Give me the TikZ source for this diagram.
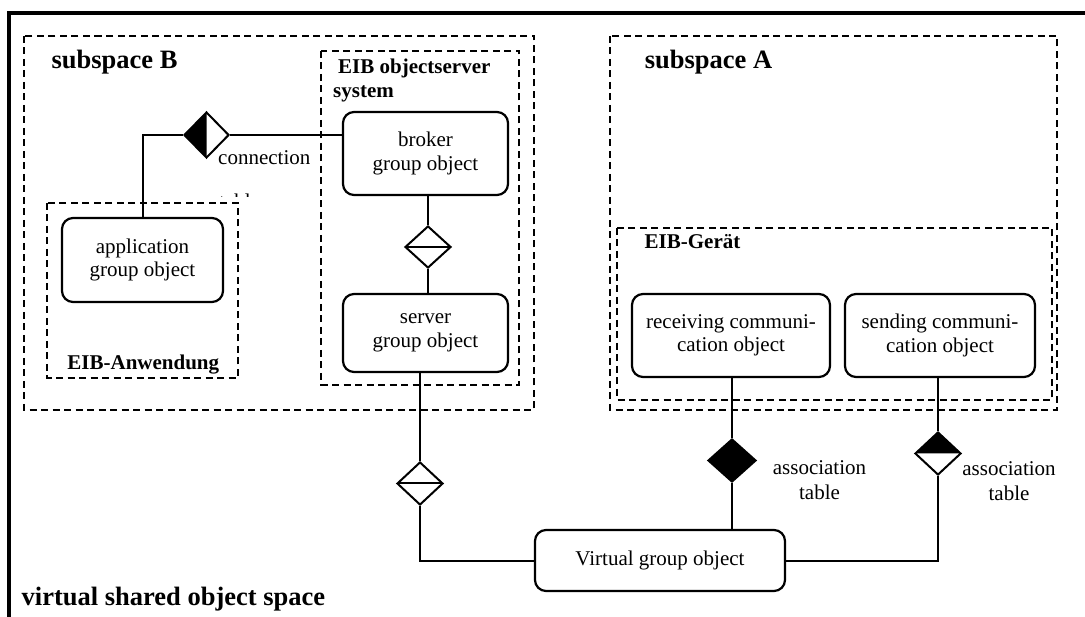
\documentclass[tikz,border=0pt]{standalone}
\usepackage{fontspec}
\setmainfont{Liberation Serif}
\usetikzlibrary{shapes.geometric}
\begin{document}
\begin{tikzpicture}[x=1pt,y=-1pt,
  wire/.style={line width=2pt},
  outerframe/.style={line width=3.3pt},
  region/.style={line width=1.7pt, dash pattern=on 7pt off 4.5pt},
  objbox/.style={draw, line width=2.2pt, rounded corners=11pt, align=center,
    inner sep=0pt, font=\fontsize{21}{23.5}\selectfont},
  txt/.style={align=center, inner sep=0pt, font=\fontsize{21}{25}\selectfont},
  bigtitle/.style={inner sep=0pt, font=\bfseries\fontsize{26.5}{30}\selectfont},
  boxtitle/.style={inner sep=0pt, font=\bfseries\fontsize{21}{24}\selectfont},
  dia/.style={draw, diamond, line width=2pt, inner sep=0pt,
    minimum width=46pt, minimum height=43pt, fill=white},
  leftblack/.style={path picture={\fill[black] (path picture bounding box.north) --
    (path picture bounding box.west) -- (path picture bounding box.south) -- cycle;}},
  topblack/.style={path picture={\fill[black] (path picture bounding box.west) --
    (path picture bounding box.north) -- (path picture bounding box.east) -- cycle;}},
  allblack/.style={fill=black},
  midbar/.style={path picture={\draw[black, line width=2pt] (path picture bounding box.west) --
    (path picture bounding box.east);}}
]
\useasboundingbox (0,0) rectangle (1085,617);
\fill[white] (0,0) rectangle (1085,617);

% outer frame of the shared object space
\draw[outerframe] (1090,13) -- (9,13) -- (9,622);

% regions
\draw[region] (24,36) rectangle (534,410);
\draw[region] (321,51) rectangle (519,385);
\draw[region] (47,203) rectangle (238,378);
\draw[region] (610,36) rectangle (1057,410);
\draw[region] (617,228) rectangle (1052,400);

% region titles
\node[bigtitle, anchor=base] (tB) at (114.5,68.5) {subspace B};
\node[bigtitle, anchor=base] (tA) at (708.5,68.5) {subspace A};
\node[bigtitle, anchor=base west] (tV) at (21.5,605) {virtual shared object space};
\node[boxtitle, anchor=base west] (tS1) at (338,74) {EIB objectserver};
\node[boxtitle, anchor=base west] (tS2) at (333,97.5) {system};
\node[boxtitle, anchor=base] (tW) at (143.3,370) {EIB-Anwendung};
\node[boxtitle, anchor=base] (tG) at (692.5,249) {EIB-Gerät};

% objects
\node[objbox, minimum width=165pt, minimum height=83pt] (broker) at (425.5,153.5) {broker\\group object};
\node[objbox, minimum width=165pt, minimum height=78pt] (server) at (425.5,333) {server\\group object};
\node[objbox, minimum width=161pt, minimum height=84pt] (app) at (142.5,260) {application\\group object};
\node[objbox, minimum width=198pt, minimum height=83pt] (recv) at (731,335.5) {receiving communi-\\cation object};
\node[objbox, minimum width=190pt, minimum height=83pt] (send) at (940,335.5) {sending communi-\\cation object};
\node[objbox, minimum width=250pt, minimum height=61pt] (virt) at (660,560.5) {Virtual group object};

% association diamonds
\node[dia, leftblack, minimum height=46pt, minimum width=45pt] (conn) at (206.5,135) {};
\node[dia, midbar, minimum height=42pt] (brdia) at (428,247) {};
\node[dia, midbar] (srvdia) at (420,483.5) {};
\node[dia, allblack, minimum width=48pt] (recvdia) at (732,460.5) {};
\node[dia, topblack] (senddia) at (938,453.5) {};

% labels
\node[txt, anchor=base west] (lconn) at (218,165) {connection};
\begin{scope}
  \clip (200,170) rectangle (320,196.5);
  \node[txt, anchor=base west] (lconntab) at (219,209) {table};
\end{scope}
\node[txt] (lrecv) at (819.5,480.5) {association\\table};
\node[txt] (lsend) at (1009,481.5) {association\\table};

% connectors
\draw[wire] (app.north) |- (conn.west);
\draw[wire] (conn.east) -- (conn.east -| broker.west);
\draw[wire] (broker.south -| brdia.north) -- (brdia.north);
\draw[wire] (brdia.south) -- (brdia.south |- server.north);
\draw[wire] (server.south -| srvdia.north) -- (srvdia.north);
\draw[wire] (srvdia.south) |- (virt.west);
\draw[wire] (recv.south -| recvdia.north) -- (recvdia.north);
\draw[wire] (recvdia.south) -- (recvdia.south |- virt.north);
\draw[wire] (send.south -| senddia.north) -- (senddia.north);
\draw[wire] (senddia.south) |- (virt.east);
\end{tikzpicture}
\end{document}
